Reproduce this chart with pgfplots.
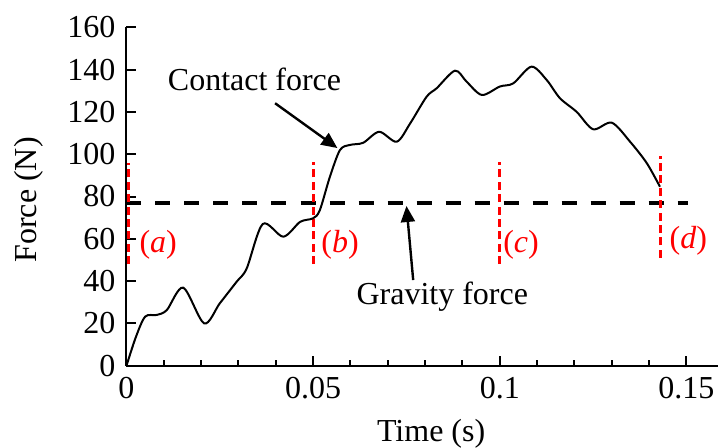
\documentclass[border=0pt]{standalone}
\usepackage{fontspec}
\setmainfont{Liberation Serif}
\usepackage{pgfplots}
\pgfplotsset{compat=1.18}
\usetikzlibrary{arrows.meta}
\begin{document}
\begin{tikzpicture}
\fontsize{16bp}{19bp}\selectfont
\begin{axis}[
  name=ax,
  scale only axis,
  width=295.75bp, height=169.2bp,
  xmin=0, xmax=0.15845, ymin=0, ymax=160,
  axis lines*=left,
  axis line style={line width=1bp},
  every tick/.style={black, line width=1bp},
  tick align=inside,
  major tick length=5bp, minor tick length=3bp,
  xtick={0,0.05,0.1,0.15},
  xticklabels={0,0.05,0.1,0.15},
  minor xtick={0.01,0.02,0.03,0.04,0.06,0.07,0.08,0.09,0.11,0.12,0.13,0.14},
  ytick={0,20,...,160},
  /pgf/number format/assume math mode=true,
  tick label style={font=\fontsize{16bp}{19bp}\selectfont},
  label style={font=\fontsize{16bp}{19bp}\selectfont},
  xlabel={Time (s)},
  ylabel={Force (N)},
  xlabel style={at={(axis description cs:0.515,-0.2)}, anchor=center},
  ylabel style={at={(axis description cs:-0.166,0.49)}, anchor=center, rotate=0},
  clip=false,
]
\coordinate (O) at (rel axis cs:0,0);
% gravity force
\addplot[black, line width=2bp, dash pattern=on 7.5bp off 7bp] coordinates {(0,77) (0.1505,77)};
% red markers
\addplot[red, line width=1.4bp, dash pattern=on 4bp off 2.2bp] coordinates {(0.0006,48) (0.0006,96)};
\addplot[red, line width=1.4bp, dash pattern=on 4bp off 2.2bp] coordinates {(0.05,48) (0.05,96.5)};
\addplot[red, line width=1.4bp, dash pattern=on 4bp off 2.2bp] coordinates {(0.1,48) (0.1,96.5)};
\addplot[red, line width=1.4bp, dash pattern=on 4bp off 2.2bp] coordinates {(0.1431,51) (0.1431,99)};
% contact force
\addplot[black, line width=1bp, smooth, tension=0.5] coordinates {
(0,0) (0.0025,13.5) (0.005,23.2) (0.0081,24) (0.0108,26.3) (0.0152,36.9)
(0.0208,20) (0.025,29.5) (0.0295,39.7) (0.0322,46) (0.0365,67) (0.042,61)
(0.0465,68) (0.05,69.7) (0.0518,73.6) (0.0545,89.4) (0.0572,102) (0.0599,104.4)
(0.0634,105.4) (0.0677,110.6) (0.0724,105.9) (0.076,114.6) (0.0804,127.2)
(0.0831,131.2) (0.088,139.5) (0.0911,134.3) (0.0952,128) (0.1,132) (0.1036,133.5)
(0.1085,141.4) (0.1126,135) (0.1161,126.5) (0.1206,120) (0.125,111.8) (0.13,114.9)
(0.1349,105.9) (0.1394,95.7) (0.1429,84.6)
};
\node[red] at (axis cs:0.0085,57) {(\textit{a})};
\node[red] at (axis cs:0.0572,57) {(\textit{b})};
\node[red] at (axis cs:0.1057,57) {(\textit{c})};
\node[red] at (axis cs:0.1505,59) {(\textit{d})};
\node at (axis cs:0.0343,135.5) {Contact force};
\draw[line width=1.2bp, -{Triangle[length=8bp,width=7bp]}] (axis cs:0.0398,124.1) -- (axis cs:0.0565,102.9);
\node at (axis cs:0.0846,32.6) {Gravity force};
\draw[line width=1.2bp, -{Triangle[length=8bp,width=7bp]}] (axis cs:0.0768,40.5) -- (axis cs:0.0750,75.5);
\end{axis}
\pgfresetboundingbox
\path[use as bounding box] ([shift={(-63.25bp,-41.15bp)}]O) rectangle ([shift={(295.75bp,182.85bp)}]O);
\end{tikzpicture}
\end{document}
